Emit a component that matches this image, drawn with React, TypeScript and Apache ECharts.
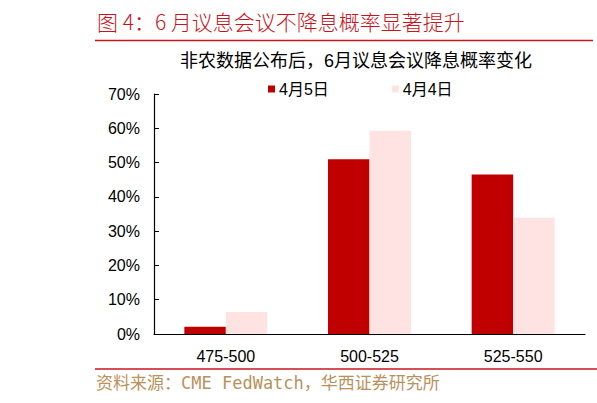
import React, { useEffect, useRef } from "react";
import * as echarts from "echarts";

const categories = ["475-500", "500-525", "525-550"];
const seriesNames = ["4月5日", "4月4日"];
const apr5 = [2.1, 51.0, 46.5];
const apr4 = [6.4, 59.3, 33.9];
const yTicks = { min: 0, max: 70, interval: 10 };

const figTitle = "图 4：6 月议息会议不降息概率显著提升";
const chartTitle = "非农数据公布后，6月议息会议降息概率变化";
const sourceText = "资料来源：CME FedWatch，华西证券研究所";

const RED = "#c00000";
const PINK = "#ffe3e3";
const LATIN = "'Liberation Sans', 'Noto Sans CJK SC', sans-serif";

export default function App() {
  const ref = useRef<HTMLDivElement>(null);
  useEffect(() => {
    if (!ref.current) return;
    const chart = echarts.init(ref.current, undefined, { renderer: "svg" });
    chart.setOption({
      animation: false,
      backgroundColor: "#ffffff",
      grid: { left: 154, right: 12, top: 94, bottom: 69, containLabel: false },
      legend: {
        data: seriesNames,
        left: 268,
        top: 81,
        padding: 0,
        icon: "rect",
        itemWidth: 7,
        itemHeight: 7,
        itemGap: 63,
        textStyle: { fontSize: 16, color: "#000", fontFamily: LATIN, padding: [0, 0, 0, -1] },
      },
      xAxis: {
        type: "category",
        data: categories,
        axisLine: { lineStyle: { color: "#000", width: 1.2 } },
        axisTick: { inside: true, length: 5, lineStyle: { color: "#000" } },
        axisLabel: { fontSize: 16, color: "#000", fontFamily: LATIN, margin: 14 },
      },
      yAxis: {
        type: "value",
        min: yTicks.min,
        max: yTicks.max,
        interval: yTicks.interval,
        axisLine: { show: true, lineStyle: { color: "#000", width: 1.2 } },
        axisTick: { show: true, inside: true, length: 5, lineStyle: { color: "#000" } },
        axisLabel: { fontSize: 16, color: "#000", fontFamily: LATIN, margin: 14, formatter: "{value}%" },
        splitLine: { show: false },
      },
      series: [
        { name: seriesNames[0], type: "bar", data: apr5, barWidth: 41.5, barGap: "0%", itemStyle: { color: RED } },
        { name: seriesNames[1], type: "bar", data: apr4, barWidth: 41.5, barGap: "0%", itemStyle: { color: PINK } },
      ],
      graphic: [
        {
          type: "text",
          left: 97,
          top: 10,
          style: { text: figTitle, fill: "#c8141e", font: "300 21px 'Noto Sans CJK SC', sans-serif" },
        },
        {
          type: "line",
          shape: { x1: 95, y1: 40.5, x2: 593, y2: 40.5 },
          style: { stroke: "#c8141e", lineWidth: 1.5 },
        },
        {
          type: "text",
          left: 180,
          top: 52,
          style: { text: chartTitle, fill: "#000", font: "18px 'Liberation Sans', 'Noto Sans CJK SC', sans-serif" },
        },
        {
          type: "line",
          shape: { x1: 95, y1: 369, x2: 597, y2: 369 },
          style: { stroke: "#c8141e", lineWidth: 1.5 },
        },
        {
          type: "text",
          left: 96,
          top: 374,
          style: { text: sourceText, fill: "#b8925c", font: "17px 'DejaVu Sans Mono', 'Noto Sans CJK SC', monospace" },
        },
      ],
    });
    return () => chart.dispose();
  }, []);
  return (
    <div
      ref={ref}
      style={{ position: "fixed", left: 0, top: 0, width: 597, height: 403, background: "#fff" }}
    />
  );
}
